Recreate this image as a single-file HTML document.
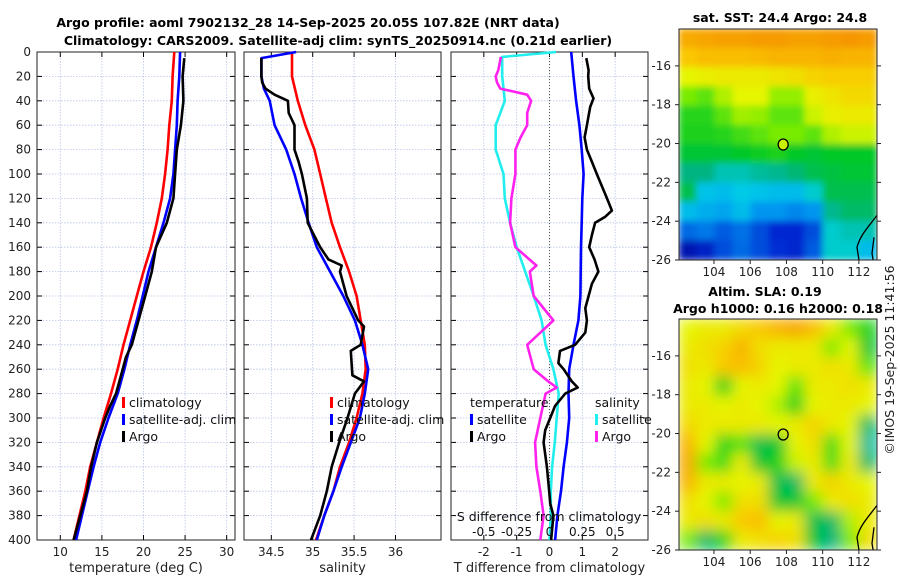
<!DOCTYPE html>
<html><head><meta charset="utf-8"><style>
body{margin:0;background:#fff;}
svg{display:block;font-family:"DejaVu Sans","Liberation Sans",sans-serif;}
</style></head><body>
<svg id="fig" width="900" height="580" viewBox="0 0 900 580">
<defs>
<filter id="blur" x="0" y="0" width="1" height="1"><feGaussianBlur stdDeviation="7"/></filter>
<filter id="blur2" x="0" y="0" width="1" height="1"><feGaussianBlur stdDeviation="3.5"/></filter>
<clipPath id="c1"><rect x="679" y="29" width="198" height="231"/></clipPath>
<clipPath id="c2"><rect x="679" y="319" width="198" height="231"/></clipPath>
</defs>
<text x="308" y="27" text-anchor="middle" font-size="12.5" font-weight="bold">Argo profile: aoml 7902132_28 14-Sep-2025 20.05S 107.82E (NRT data)</text>
<text x="338" y="45" text-anchor="middle" font-size="12.5" font-weight="bold">Climatology: CARS2009. Satellite-adj clim: synTS_20250914.nc (0.21d earlier)</text>
<text x="780" y="22" text-anchor="middle" font-size="12.5" font-weight="bold">sat. SST: 24.4 Argo: 24.8</text>
<text x="765" y="296" text-anchor="middle" font-size="12.5" font-weight="bold">Altim. SLA: 0.19</text>
<text x="778" y="313" text-anchor="middle" font-size="12.5" font-weight="bold">Argo h1000: 0.16 h2000: 0.18</text>
<text transform="translate(894,360) rotate(-90)" text-anchor="middle" font-size="12.5" fill="#222">©IMOS 19-Sep-2025 11:41:56</text>
<g id="g"></g>
</svg>
<script>
// ---- data ----
const depthTicks=[0,20,40,60,80,100,120,140,160,180,200,220,240,260,280,300,320,340,360,380,400];
const climDepth=[0,20,40,60,80,100,120,140,160,180,200,220,240,260,280,300,320,340,360,380,400];
const climT=[23.7,23.5,23.4,23.1,22.9,22.6,22.2,21.6,20.9,20.0,19.2,18.4,17.6,16.9,16.1,15.2,14.4,13.6,13.0,12.3,11.6];
const satT=[24.4,24.3,24.1,24.0,23.8,23.6,23.2,22.4,21.5,20.6,19.9,19.2,18.4,17.7,16.9,15.8,14.8,14.0,13.3,12.6,11.9];
const argoTDepth=[5,20,40,60,80,100,120,130,140,160,180,200,220,240,250,260,270,280,290,300,320,340,360,380,400];
const argoT=[24.9,24.7,24.8,24.5,24.0,23.8,23.6,23.2,22.8,21.5,21.0,20.2,19.4,18.6,17.9,17.5,17.1,16.7,16.0,15.4,14.4,13.7,13.2,12.4,11.6];
const climS=[34.75,34.75,34.82,34.91,35.02,35.09,35.16,35.23,35.33,35.44,35.53,35.58,35.63,35.64,35.60,35.53,35.44,35.33,35.25,35.14,35.04];
const satSDepth=[0,5,20,30,40,60,80,100,120,140,160,180,200,220,240,260,280,300,320,340,360,380,400];
const satS=[34.80,34.38,34.38,34.41,34.48,34.54,34.68,34.78,34.86,34.95,35.05,35.21,35.37,35.51,35.60,35.67,35.63,35.57,35.46,35.35,35.25,35.14,35.05];
const argoSDepth=[5,20,25,30,35,40,50,60,80,90,100,120,140,160,170,175,180,200,220,225,240,245,265,270,280,300,320,340,360,380,400];
const argoS=[34.38,34.38,34.39,34.43,34.54,34.70,34.71,34.78,34.78,34.83,34.87,34.93,34.94,35.09,35.19,35.35,35.33,35.41,35.55,35.62,35.58,35.46,35.48,35.62,35.51,35.42,35.32,35.23,35.17,35.09,34.98];
const dTsat=[0.66,0.73,0.81,0.91,0.98,1.04,1.0,0.98,0.96,0.95,0.94,0.88,0.73,0.60,0.58,0.60,0.53,0.43,0.35,0.24,0.17];
const dTargoDepth=[5,15,20,30,38,45,60,70,80,90,100,120,130,135,140,150,160,170,180,190,200,210,220,230,240,245,255,260,270,275,280,290,300,310,320,340,360,370,380,400];
const dTargo=[1.12,1.19,1.18,1.21,1.34,1.24,1.14,1.07,1.14,1.29,1.44,1.75,1.90,1.70,1.39,1.29,1.21,1.37,1.49,1.29,1.19,1.09,1.14,1.09,0.78,0.32,0.27,0.43,0.68,0.86,0.48,0.17,0.02,-0.13,-0.18,-0.08,-0.01,0.02,0.12,0.05];
const dSsatDepth=[0,4,20,40,50,60,80,100,120,140,160,180,200,220,240,260,280,300,320,340,360,380,400];
const dSsat=[0.05,-0.36,-0.36,-0.34,-0.375,-0.41,-0.41,-0.35,-0.34,-0.30,-0.25,-0.185,-0.12,-0.06,-0.03,0.03,0.07,0.055,0.04,0.02,0.01,0.01,0];
const dSargoDepth=[4,15,20,25,30,35,40,50,60,70,80,100,120,140,160,175,180,200,220,240,260,270,275,280,300,320,340,360,380,400];
const dSargo=[-0.37,-0.39,-0.41,-0.40,-0.375,-0.17,-0.14,-0.17,-0.17,-0.22,-0.26,-0.26,-0.29,-0.30,-0.26,-0.10,-0.15,-0.12,0.03,-0.17,-0.12,-0.01,0.055,-0.03,-0.07,-0.11,-0.10,-0.07,-0.045,-0.07];
const tTicks=[10,15,20,25,30];
const sTicks=[34.5,35,35.5,36];
const dtTicks=[-2,-1,0,1,2];
const dsTicks=[-0.5,-0.25,0,0.25,0.5];
const dsTickLabels=["-0.5","-0.25","0","0.25","0.5"];
const lonTicks=[104,106,108,110,112];
const latTicks=[-16,-18,-20,-22,-24,-26];
const argoLon=107.82, argoLat=-20.05;
const sstGrid=[
[0.84,0.85,0.86,0.86,0.87,0.87,0.86,0.86,0.87,0.88,0.87],
[0.78,0.80,0.80,0.80,0.81,0.82,0.82,0.82,0.83,0.82,0.82],
[0.70,0.71,0.72,0.72,0.72,0.73,0.74,0.76,0.77,0.77,0.77],
[0.62,0.60,0.66,0.70,0.70,0.64,0.64,0.71,0.73,0.75,0.75],
[0.56,0.56,0.60,0.65,0.64,0.60,0.60,0.68,0.71,0.72,0.72],
[0.55,0.55,0.56,0.58,0.60,0.62,0.62,0.60,0.66,0.68,0.68],
[0.52,0.52,0.52,0.53,0.54,0.55,0.53,0.52,0.53,0.53,0.53],
[0.46,0.46,0.42,0.42,0.44,0.45,0.47,0.50,0.51,0.52,0.52],
[0.50,0.36,0.35,0.37,0.36,0.35,0.35,0.40,0.50,0.50,0.50],
[0.35,0.33,0.32,0.35,0.30,0.30,0.28,0.30,0.45,0.48,0.48],
[0.24,0.26,0.22,0.25,0.20,0.15,0.15,0.20,0.40,0.42,0.42],
[0.08,0.12,0.20,0.24,0.20,0.16,0.14,0.22,0.40,0.40,0.35]];
const slaGrid=[
[0.70,0.72,0.72,0.75,0.78,0.82,0.85,0.80,0.72,0.62,0.55],
[0.72,0.74,0.76,0.82,0.74,0.72,0.72,0.72,0.62,0.70,0.52],
[0.74,0.72,0.78,0.80,0.76,0.70,0.72,0.72,0.74,0.72,0.60],
[0.72,0.70,0.55,0.70,0.72,0.70,0.60,0.72,0.72,0.74,0.72],
[0.72,0.72,0.70,0.72,0.70,0.66,0.55,0.70,0.72,0.72,0.70],
[0.75,0.72,0.72,0.72,0.72,0.70,0.72,0.76,0.72,0.70,0.48],
[0.82,0.70,0.56,0.60,0.50,0.52,0.70,0.74,0.58,0.70,0.44],
[0.84,0.62,0.58,0.72,0.52,0.55,0.68,0.72,0.58,0.72,0.48],
[0.82,0.72,0.72,0.70,0.72,0.50,0.48,0.72,0.76,0.72,0.70],
[0.74,0.70,0.62,0.74,0.74,0.52,0.52,0.62,0.72,0.74,0.72],
[0.72,0.74,0.72,0.78,0.80,0.70,0.72,0.50,0.48,0.66,0.72],
[0.62,0.48,0.56,0.72,0.74,0.76,0.74,0.52,0.46,0.62,0.74]];

// ---- helpers ----
const NS='http://www.w3.org/2000/svg';
const G=document.getElementById('g');
function mk(tag,attrs,parent){const e=document.createElementNS(NS,tag);for(const k in attrs)e.setAttribute(k,attrs[k]);(parent||G).appendChild(e);return e;}
const Y0=52,Y1=540;
function yD(d){return Y0+(d/400)*(Y1-Y0);}
function scale(a,b,x0,x1){return v=>x0+(v-a)/(b-a)*(x1-x0);}
const p1={x0:37,x1:235,f:scale(7.2,31,37,235)};
const p2={x0:244,x1:441,f:scale(34.17,36.55,244,441)};
const p3={x0:451,x1:648,f:scale(-3,3,451,648)};
const fS3=scale(-0.75,0.75,451,648);

function panel(p,name,ticks,labels,title){
  const grp=mk('g',{});
  
  
  ticks.forEach(t=>{const x=p.f(t);
    const l=mk('line',{x1:x,x2:x,y1:Y0,y2:Y1,stroke:'#b8c4e8','stroke-width':0.8,'stroke-dasharray':'1.5,1.5'},grp);
    
    mk('line',{x1:x,x2:x,y1:Y1,y2:Y1-5,stroke:'#000'},grp);
    mk('line',{x1:x,x2:x,y1:Y0,y2:Y0+5,stroke:'#000'},grp);
    const tl=mk('text',{x:x,y:556,'text-anchor':'middle','font-size':12,fill:'#222'},grp);tl.textContent=labels?labels(t):t;
    
  });
  depthTicks.forEach(d=>{const y=yD(d);
    mk('line',{x1:p.x0,x2:p.x1,y1:y,y2:y,stroke:'#b8c4e8','stroke-width':0.8,'stroke-dasharray':'1.5,1.5'},grp);
    mk('line',{x1:p.x0,x2:p.x0+5,y1:y,y2:y,stroke:'#000'},grp);
    mk('line',{x1:p.x1,x2:p.x1-5,y1:y,y2:y,stroke:'#000'},grp);
  });
  const r=mk('rect',{x:p.x0,y:Y0,width:p.x1-p.x0,height:Y1-Y0,fill:'none',stroke:'#222','stroke-width':1},grp);
  
  const t=mk('text',{x:(p.x0+p.x1)/2,y:572,'text-anchor':'middle','font-size':13,fill:'#222'},grp);t.textContent=title;
  
  return grp;
}
function line(f,vals,depths,color,name,w){
  const pts=vals.map((v,i)=>f(v).toFixed(1)+','+yD(depths[i]).toFixed(1)).join(' ');
  const pl=mk('polyline',{points:pts,fill:'none',stroke:color,'stroke-width':w||2.6,'stroke-linejoin':'round'});
  
  
}
function legend(x,y,items,name){
  const grp=mk('g',{});
  
  
  items.forEach((it,i)=>{
    if(it[1]) mk('rect',{x:x,y:y+i*17-10,width:3,height:11,fill:it[1]},grp);
    const t=mk('text',{x:x+(it[1]?7:0),y:y+i*17,'font-size':12.5,fill:'#111'},grp);t.textContent=it[0];
  });
}

depthTicks.forEach(d=>{const t=mk('text',{x:31,y:yD(d)+4,'text-anchor':'end','font-size':12,fill:'#222'});t.textContent=d;
  });

panel(p1,'temperature-panel',tTicks,null,'temperature (deg C)');
line(p1.f,climT,climDepth,'#ff0000','temp-climatology-line');
line(p1.f,satT,climDepth,'#0000ff','temp-satellite-line');
line(p1.f,argoT,argoTDepth,'#000','temp-argo-line');
legend(122,407,[['climatology','#ff0000'],['satellite-adj. clim','#0000ff'],['Argo','#000']],'temp-legend');

panel(p2,'salinity-panel',sTicks,null,'salinity');
line(p2.f,climS,climDepth,'#ff0000','sal-climatology-line');
line(p2.f,satS,satSDepth,'#0000ff','sal-satellite-line');
line(p2.f,argoS,argoSDepth,'#000','sal-argo-line');
legend(330,407,[['climatology','#ff0000'],['satellite-adj. clim','#0000ff'],['Argo','#000']],'sal-legend');

panel(p3,'difference-panel',dtTicks,null,'T difference from climatology');
mk('line',{x1:p3.f(0),x2:p3.f(0),y1:Y0,y2:Y1,stroke:'#555','stroke-width':1,'stroke-dasharray':'1,2'});
line(fS3,dSsat,dSsatDepth,'#22eeee','sdiff-satellite-line');
line(fS3,dSargo,dSargoDepth,'#ff22ee','sdiff-argo-line');
line(p3.f,dTsat,climDepth,'#0000ff','tdiff-satellite-line');
line(p3.f,dTargo,dTargoDepth,'#000','tdiff-argo-line');
legend(470,407,[['temperature',null],['satellite','#0000ff'],['Argo','#000']],'tdiff-legend');
legend(595,407,[['salinity',null]],'sdiff-legend-title');
legend(595,424,[['satellite','#22eeee'],['Argo','#ff22ee']],'sdiff-legend');
{const t=mk('text',{x:549,y:521,'text-anchor':'middle','font-size':12.5,fill:'#111'});t.textContent='S difference from climatology';
 }
dsTicks.forEach((s,i)=>{const t=mk('text',{x:fS3(s),y:536,'text-anchor':'middle','font-size':12,fill:'#111'});t.textContent=dsTickLabels[i];
  });

// ---- maps ----
function cmap(v){
  const stops=[[0,[0,0,140]],[0.15,[0,40,210]],[0.3,[0,150,240]],[0.38,[0,210,230]],[0.46,[0,180,130]],[0.53,[0,200,40]],[0.62,[120,235,0]],[0.7,[230,245,0]],[0.78,[250,200,0]],[0.88,[245,150,0]],[1,[220,60,0]]];
  for(let i=1;i<stops.length;i++){if(v<=stops[i][0]){const a=stops[i-1],b=stops[i],t=(v-a[0])/(b[0]-a[0]);
    return 'rgb('+a[1].map((c,k)=>Math.round(c+(b[1][k]-c)*t)).join(',')+')';}}
  return 'rgb(220,60,0)';
}
const lonF=scale(102.07,113.0,679,877);
function map(grid,top,clip,filter,name,filled){
  const h=231;const latF=scale(-14.1,-26,top,top+h);
  const grp=mk('g',{'clip-path':'url(#'+clip+')'});
  
  
  const inner=mk('g',{filter:'url(#'+filter+')'},grp);
  const rows=grid.length,cols=grid[0].length,cw=198/cols,rh=h/rows;
  mk('rect',{x:679,y:top,width:198,height:h,fill:cmap(0.7)},inner);
  grid.forEach((row,r)=>row.forEach((v,c)=>{
    mk('rect',{x:679+c*cw-0.5,y:top+r*rh-0.5,width:cw+1,height:rh+1,fill:cmap(v)},inner);
  }));
  const cy=latF(-23.7);
  mk('path',{d:`M877 ${cy} C 868 ${cy+12} 860 ${cy+20} 857 ${cy+32} L 859 ${cy+45} L 857 ${cy+55}`,fill:'none',stroke:'#000','stroke-width':1.3},grp);
  mk('path',{d:`M874 ${cy+22} L 872 ${cy+38} L 874 ${cy+50}`,fill:'none',stroke:'#000','stroke-width':1.3},grp);
  const fr=mk('rect',{x:679,y:top,width:198,height:h,fill:'none',stroke:'#222'});
  
  latTicks.forEach(l=>{const y=latF(l);
    mk('line',{x1:877,x2:881,y1:y,y2:y,stroke:'#222'});mk('line',{x1:675,x2:679,y1:y,y2:y,stroke:'#222'});
    const t=mk('text',{x:671,y:y+4,'text-anchor':'end','font-size':12,fill:'#222'});t.textContent=l;
    });
  lonTicks.forEach(l=>{const x=lonF(l);
    mk('line',{x1:x,x2:x,y1:top+h,y2:top+h+4,stroke:'#222'});
    const t=mk('text',{x:x,y:top+h+16,'text-anchor':'middle','font-size':12,fill:'#222'});t.textContent=l;
    });
  const c=mk('ellipse',{cx:lonF(argoLon),cy:latF(argoLat),rx:5,ry:5.5,fill:filled?'#c8f000':'none',stroke:'#000','stroke-width':1.3});
  
}
map(sstGrid,29,'c1','blur2','sst-map',true);
map(slaGrid,319,'c2','blur','sla-map',false);
</script>
</body></html>
